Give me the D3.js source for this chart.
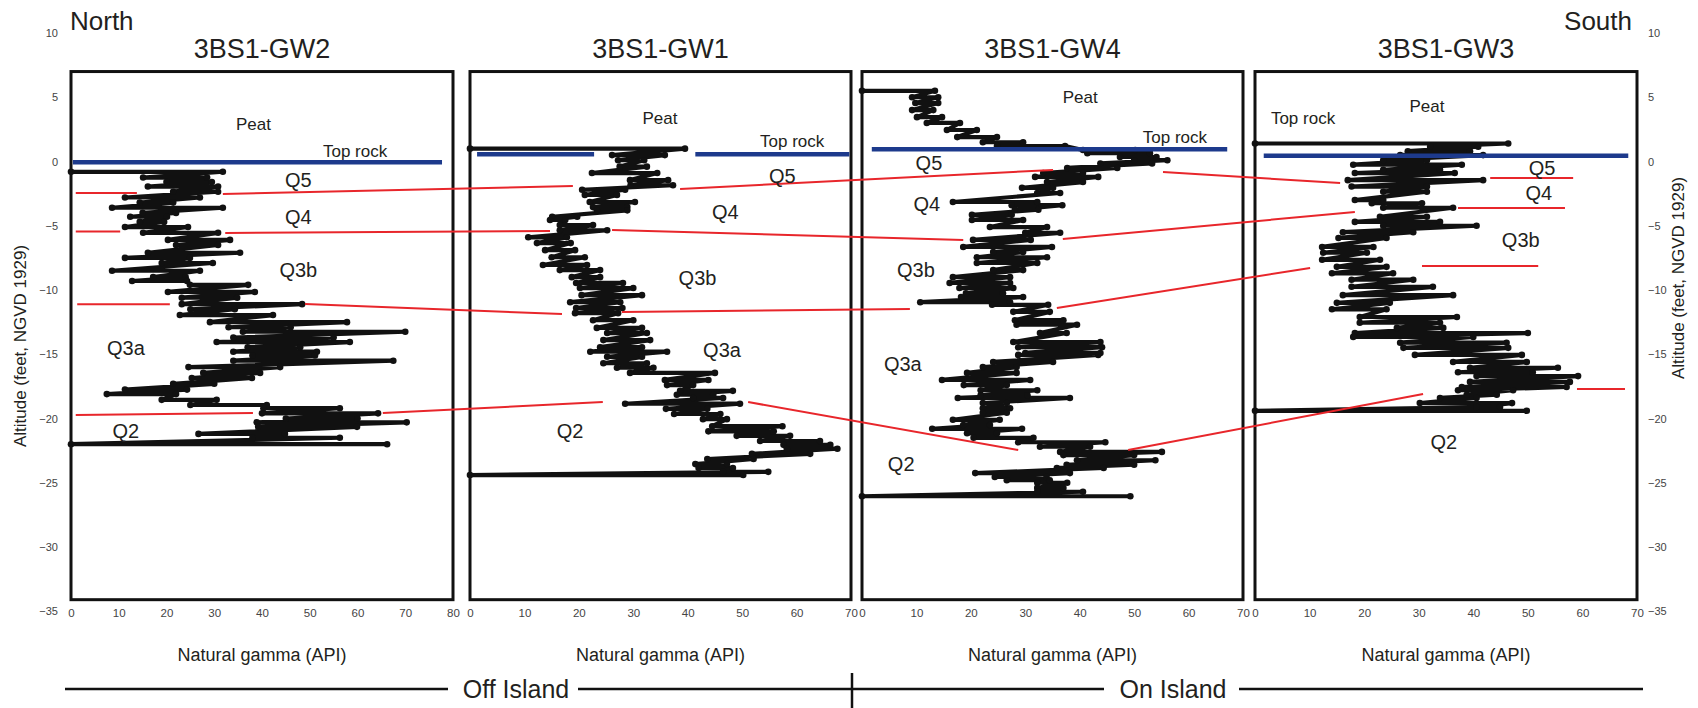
<!DOCTYPE html>
<html>
<head>
<meta charset="utf-8">
<script src="https://cdn.jsdelivr.net/npm/d3@7"></script>
<style>
  body { margin: 0; background: #fff; }
  svg { font-family: "Liberation Sans", Arial, Helvetica, sans-serif; }
</style>
</head>
<body>
<script>
// well names and gamma axis maxima
var wells = ["3BS1-GW2", "3BS1-GW1", "3BS1-GW4", "3BS1-GW3"];
var gammaMax = [80, 70, 70, 70];
var altTicks = [10, 5, 0, -5, -10, -15, -20, -25, -30, -35];

// gamma logs, rows of [altitude, low gamma, high gamma], top to bottom
var gw2 = [
  [-0.8, 0, 31.8], [-1.25, 15.1, 28.5], [-1.6, 20.0, 29.5], [-1.95, 16.1, 30.8],
  [-2.35, 21.4, 30.8], [-2.8, 11.3, 27.0], [-3.2, 14.4, 21.4], [-3.6, 8.6, 31.8],
  [-4.0, 15.0, 22.0], [-4.3, 12.4, 20.1], [-4.7, 14.4, 19.5], [-5.1, 11.3, 24.5],
  [-5.55, 15.1, 30.8], [-6.1, 20.3, 33.3], [-6.5, 22.0, 30.8], [-7.1, 16.1, 35.4],
  [-7.5, 11.3, 24.9], [-7.9, 19.0, 29.7], [-8.5, 8.6, 27.0], [-9.0, 17.2, 24.0],
  [-9.3, 12.8, 24.3], [-9.6, 24.9, 37.1], [-10.15, 20.3, 38.5], [-10.6, 23.2, 34.8],
  [-11.1, 23.2, 48.4], [-11.5, 25.0, 34.3], [-11.95, 22.8, 42.3], [-12.5, 29.1, 57.8],
  [-12.9, 33.0, 46.0], [-13.25, 36.0, 70.0], [-13.7, 34.0, 55.0], [-14.05, 30.5, 58.4],
  [-14.45, 37.0, 48.0], [-14.8, 34.0, 51.5], [-15.1, 38.0, 51.1], [-15.5, 34.0, 67.5],
  [-16.0, 24.6, 43.8], [-16.45, 27.7, 39.6], [-16.85, 25.3, 37.9], [-17.3, 21.4, 30.0],
  [-17.75, 11.3, 24.3], [-18.1, 7.5, 22.0], [-18.55, 19.0, 30.5], [-18.95, 25.0, 41.0],
  [-19.2, 40.3, 56.3], [-19.6, 40.0, 64.3], [-20.0, 45.0, 60.0], [-20.3, 38.9, 70.3],
  [-20.65, 39.2, 59.9], [-21.2, 26.7, 44.8], [-21.5, 38.0, 56.3], [-22.0, 0, 66.2]
];
var gw1 = [
  [1.0, 0, 39.5], [0.5, 26.1, 35.8], [0.1, 27.2, 32.0], [-0.4, 27.5, 32.5],
  [-0.9, 22.4, 34.4], [-1.45, 29.4, 36.4], [-1.85, 29.5, 37.3], [-2.2, 20.6, 28.5],
  [-2.6, 21.1, 27.0], [-3.15, 22.0, 30.3], [-3.55, 22.6, 28.9], [-3.8, 23.3, 28.9],
  [-4.3, 15.1, 19.7], [-4.55, 14.7, 17.5], [-4.95, 16.5, 22.6], [-5.35, 16.5, 25.2],
  [-5.9, 10.7, 17.8], [-6.35, 12.3, 18.5], [-6.9, 13.8, 19.3], [-7.45, 15.0, 21.1],
  [-8.05, 13.4, 21.5], [-8.45, 16.5, 23.9], [-9.0, 18.7, 23.9], [-9.45, 19.5, 28.1],
  [-9.85, 20.2, 30.0], [-10.4, 20.5, 31.6], [-10.95, 18.4, 27.6], [-11.4, 19.5, 28.0],
  [-11.8, 19.3, 27.2], [-12.35, 22.6, 30.0], [-12.95, 23.3, 31.6], [-13.35, 25.2, 32.5],
  [-13.9, 24.5, 33.1], [-14.45, 23.9, 31.6], [-14.8, 22.1, 36.2], [-15.2, 25.2, 31.6],
  [-15.7, 24.5, 32.5], [-16.05, 27.0, 33.7], [-16.45, 29.4, 45.0], [-17.0, 35.8, 43.8],
  [-17.4, 36.2, 41.0], [-17.85, 38.6, 48.3], [-18.15, 38.0, 44.7], [-18.4, 41.0, 46.5],
  [-18.85, 28.5, 49.6], [-19.25, 36.0, 43.6], [-19.65, 37.5, 46.0], [-20.05, 42.8, 47.2],
  [-20.6, 44.5, 57.4], [-21.0, 43.8, 55.8], [-21.35, 49.0, 58.8], [-21.75, 53.3, 64.3],
  [-22.05, 57.6, 66.2], [-22.35, 58.2, 67.5], [-22.75, 51.8, 62.5], [-23.15, 43.6, 52.1],
  [-23.55, 41.4, 47.2], [-23.85, 42.0, 48.3], [-24.15, 46.5, 54.8], [-24.4, 0, 50.2]
];
var gw4 = [
  [5.5, 0, 13.4], [5.0, 9.2, 14.0], [4.55, 9.8, 14.0], [4.0, 9.2, 13.1],
  [3.45, 10.1, 14.7], [3.0, 11.9, 18.0], [2.45, 15.6, 21.1], [1.9, 17.5, 24.8],
  [1.5, 22.2, 29.6], [1.2, 24.8, 37.3], [0.9, 40.6, 50.2], [0.65, 41.4, 52.9],
  [0.35, 47.4, 54.1], [0.1, 50.0, 56.1], [-0.15, 43.8, 53.3], [-0.5, 37.7, 46.9],
  [-0.9, 33.3, 40.6], [-1.2, 31.8, 43.4], [-1.6, 34.0, 40.6], [-2.05, 29.4, 35.1],
  [-2.45, 32.2, 36.4], [-3.15, 16.7, 32.2], [-3.4, 27.5, 36.8], [-3.75, 28.1, 32.4],
  [-4.15, 20.2, 27.5], [-4.55, 20.2, 29.6], [-5.1, 23.5, 34.0], [-5.55, 30.0, 36.4],
  [-6.1, 20.4, 31.0], [-6.65, 18.6, 34.9], [-7.05, 24.1, 29.6], [-7.45, 21.1, 34.0],
  [-7.9, 21.1, 32.2], [-8.45, 24.1, 29.6], [-9.0, 16.7, 27.2], [-9.45, 16.1, 27.2],
  [-9.85, 17.9, 27.8], [-10.25, 19.1, 25.9], [-10.55, 18.2, 29.6], [-10.95, 10.7, 27.2],
  [-11.15, 23.9, 34.2], [-11.7, 27.8, 34.5], [-12.35, 28.1, 37.0], [-12.7, 28.4, 39.5],
  [-13.35, 32.7, 37.6], [-14.05, 27.8, 43.8], [-14.45, 28.7, 44.1], [-14.9, 30.0, 43.8],
  [-15.05, 28.7, 43.4], [-15.6, 24.1, 35.1], [-16.0, 22.2, 28.4], [-16.45, 19.3, 28.4],
  [-17.0, 14.7, 30.9], [-17.4, 18.7, 26.6], [-17.8, 21.8, 32.2], [-18.2, 21.8, 30.4],
  [-18.4, 17.6, 38.2], [-18.8, 22.2, 26.6], [-19.2, 22.2, 27.2], [-19.55, 22.2, 26.6],
  [-20.1, 16.7, 25.3], [-20.5, 18.6, 23.5], [-20.8, 12.9, 29.4], [-21.15, 19.3, 24.8],
  [-21.5, 20.5, 31.5], [-21.85, 28.7, 44.7], [-22.2, 32.7, 41.9], [-22.6, 36.4, 55.1],
  [-22.85, 37.0, 50.0], [-23.25, 39.5, 53.9], [-23.6, 37.6, 50.0], [-23.85, 35.8, 44.4],
  [-24.25, 20.8, 38.2], [-24.55, 24.4, 33.9], [-24.8, 26.6, 34.5], [-25.0, 32.2, 37.7],
  [-25.4, 32.2, 37.0], [-25.7, 32.2, 40.6], [-26.05, 0, 49.3]
];
var gw3 = [
  [1.4, 0, 46.4], [1.15, 32.1, 40.9], [0.8, 28.0, 39.4], [0.5, 26.6, 41.8],
  [0.1, 23.5, 31.5], [-0.25, 18.0, 37.9], [-0.65, 23.5, 33.9], [-0.9, 18.3, 36.6],
  [-1.45, 17.0, 41.8], [-1.95, 17.7, 31.5], [-2.35, 23.5, 31.5], [-3.0, 18.3, 23.5],
  [-3.25, 21.4, 30.6], [-3.6, 23.5, 36.3], [-4.3, 22.9, 31.5], [-4.7, 18.3, 33.9],
  [-5.0, 23.5, 40.6], [-5.5, 16.1, 29.0], [-5.95, 15.3, 24.1], [-6.65, 12.3, 21.7],
  [-7.1, 12.5, 20.5], [-7.65, 12.3, 22.9], [-8.2, 15.0, 24.1], [-8.7, 14.1, 25.3],
  [-9.2, 17.7, 29.0], [-9.75, 17.7, 32.6], [-10.4, 16.1, 36.3], [-11.0, 15.0, 24.7],
  [-11.5, 14.1, 24.1], [-12.1, 19.2, 37.0], [-12.55, 19.2, 33.9], [-12.95, 26.0, 34.5],
  [-13.35, 18.3, 50.0], [-13.65, 18.0, 40.0], [-14.1, 26.6, 46.1], [-14.5, 27.2, 46.4],
  [-15.05, 29.3, 48.9], [-15.6, 36.3, 49.8], [-16.05, 39.4, 55.5], [-16.4, 37.2, 50.9],
  [-16.7, 40.6, 59.2], [-17.15, 39.4, 57.7], [-17.55, 37.9, 57.1], [-17.8, 37.2, 47.3],
  [-18.15, 38.8, 44.3], [-18.4, 33.9, 40.6], [-18.8, 30.2, 47.1], [-19.1, 40.6, 44.9],
  [-19.4, 0, 49.8]
];
var logs = [gw2, gw1, gw4, gw3];

// top of rock: [panel, gamma from, gamma to, altitude]
var topRock = [
  [0, 0.4, 77.7, -0.05], [1, 1.3, 22.8, 0.56], [1, 41.4, 69.7, 0.56],
  [2, 1.8, 67.1, 0.95], [3, 1.6, 68.4, 0.45]
];

// unit correlation lines: [panel A, gamma A, alt A, panel B, gamma B, alt B]
var unitLines = [
  [0, 1.0, -2.45, 0, 13.8, -2.45], [0, 31.8, -2.53, 1, 18.9, -1.91],
  [1, 38.6, -2.14, 2, 35.1, -0.66], [2, 55.3, -0.82, 3, 15.6, -1.67],
  [3, 43.1, -1.28, 3, 58.3, -1.28],
  [0, 1.0, -5.45, 0, 10.3, -5.45], [0, 32.3, -5.56, 1, 14.7, -5.41],
  [1, 26.1, -5.33, 2, 18.6, -6.11], [2, 36.9, -6.03, 3, 18.3, -3.93],
  [3, 37.2, -3.62, 3, 56.8, -3.62],
  [0, 1.3, -11.1, 0, 20.7, -11.1], [0, 49.0, -11.09, 1, 16.9, -11.87],
  [1, 27.9, -11.71, 2, 8.8, -11.48], [2, 35.8, -11.4, 3, 10.1, -8.29],
  [3, 30.6, -8.13, 3, 51.9, -8.13],
  [0, 1.0, -19.73, 0, 38.1, -19.57], [0, 65.3, -19.57, 1, 24.4, -18.72],
  [1, 51.1, -18.72, 2, 28.7, -22.45], [2, 48.9, -22.45, 3, 30.8, -18.09],
  [3, 59.0, -17.7, 3, 67.8, -17.7]
];

// labels inside panels: [panel, text, gamma, altitude, size]
var unitLabels = [
  [0, "Peat", 38.2, 2.9, 17], [0, "Top rock", 59.5, 0.85, 17], [0, "Q5", 47.6, -1.44, 20],
  [0, "Q4", 47.6, -4.32, 20], [0, "Q3b", 47.6, -8.44, 20], [0, "Q3a", 11.5, -14.5, 20],
  [0, "Q2", 11.5, -20.97, 20],
  [1, "Peat", 34.9, 3.38, 17], [1, "Top rock", 59.2, 1.6, 17], [1, "Q5", 57.4, -1.13, 20],
  [1, "Q4", 46.9, -3.93, 20], [1, "Q3b", 41.8, -9.07, 20], [1, "Q3a", 46.3, -14.67, 20],
  [1, "Q2", 18.4, -20.97, 20],
  [2, "Peat", 40.1, 5.02, 17], [2, "Top rock", 57.5, 1.9, 17], [2, "Q5", 12.3, -0.12, 20],
  [2, "Q4", 11.9, -3.31, 20], [2, "Q3b", 9.9, -8.44, 20], [2, "Q3a", 7.5, -15.76, 20],
  [2, "Q2", 7.2, -23.5, 20],
  [3, "Peat", 31.5, 4.32, 17], [3, "Top rock", 8.8, 3.38, 17], [3, "Q5", 52.6, -0.5, 20],
  [3, "Q4", 52.0, -2.45, 20], [3, "Q3b", 48.7, -6.11, 20], [3, "Q2", 34.6, -21.83, 20]
];

// layout
var width = 1698, height = 708;
var panelX = [[71, 453], [470, 851], [862, 1243], [1255, 1637]];
var boxTop = 7, boxBottom = -34.1;
var ink = "#231f20";

var svg = d3.select("body").append("svg")
  .attr("width", width).attr("height", height);

var y = d3.scaleLinear().domain([10, -30]).range([33, 547]);
var xs = panelX.map(function(r, i) {
  return d3.scaleLinear().domain([0, gammaMax[i]]).range(r);
});

// panels
wells.forEach(function(name, i) {
  var x = xs[i];
  var g = svg.append("g");

  // x axis
  var ax = g.append("g")
    .attr("transform", "translate(0," + y(boxBottom) + ")")
    .call(d3.axisBottom(x).tickValues(d3.range(0, gammaMax[i] + 1, 10)).tickSize(0).tickPadding(9));
  ax.select(".domain").remove();
  ax.selectAll("text").attr("font-size", 11.5).attr("fill", "#444").attr("font-family", "inherit");

  // well title
  g.append("text")
    .attr("x", (panelX[i][0] + panelX[i][1]) / 2).attr("y", 58)
    .attr("text-anchor", "middle").attr("font-size", 27).attr("fill", ink)
    .text(name);

  g.append("text")
    .attr("x", (panelX[i][0] + panelX[i][1]) / 2).attr("y", 661)
    .attr("text-anchor", "middle").attr("font-size", 18).attr("fill", ink)
    .text("Natural gamma (API)");

  // the log: each reading row goes low -> high, then on to the next row
  var pts = [];
  logs[i].forEach(function(r) {
    pts.push([r[0], r[1]]);
    pts.push([r[0], r[2]]);
  });
  var line = d3.line()
    .x(function(d) { return x(d[1]); })
    .y(function(d) { return y(d[0]); });
  g.append("path").datum(pts)
    .attr("d", line).attr("fill", "none")
    .attr("stroke", "#111").attr("stroke-width", 4.2).attr("stroke-linejoin", "round");
  g.selectAll("circle").data(pts).enter().append("circle")
    .attr("cx", function(d) { return x(d[1]); })
    .attr("cy", function(d) { return y(d[0]); })
    .attr("r", 3.3).attr("fill", "#111");

  // box
  g.append("rect")
    .attr("x", panelX[i][0]).attr("y", y(boxTop))
    .attr("width", panelX[i][1] - panelX[i][0])
    .attr("height", y(boxBottom) - y(boxTop))
    .attr("fill", "none").attr("stroke", "#111").attr("stroke-width", 3);
});

// correlation lines
svg.append("g").selectAll("line").data(unitLines).enter().append("line")
  .attr("x1", function(d) { return xs[d[0]](d[1]); })
  .attr("y1", function(d) { return y(d[2]); })
  .attr("x2", function(d) { return xs[d[3]](d[4]); })
  .attr("y2", function(d) { return y(d[5]); })
  .attr("stroke", "#e8262b").attr("stroke-width", 2);

// top of rock
svg.append("g").selectAll("line").data(topRock).enter().append("line")
  .attr("x1", function(d) { return xs[d[0]](d[1]); })
  .attr("x2", function(d) { return xs[d[0]](d[2]); })
  .attr("y1", function(d) { return y(d[3]); })
  .attr("y2", function(d) { return y(d[3]); })
  .attr("stroke", "#1d3a8c").attr("stroke-width", 4.5);

// unit labels
svg.append("g").selectAll("text").data(unitLabels).enter().append("text")
  .attr("x", function(d) { return xs[d[0]](d[2]); })
  .attr("y", function(d) { return y(d[3]); })
  .attr("dy", "0.36em").attr("text-anchor", "middle")
  .attr("font-size", function(d) { return d[4]; })
  .attr("fill", ink)
  .text(function(d) { return d[1]; });

// altitude axes
var yl = svg.append("g").attr("transform", "translate(62,0)")
  .call(d3.axisLeft(y).tickValues(altTicks).tickSize(0).tickPadding(4));
var yr = svg.append("g").attr("transform", "translate(1644,0)")
  .call(d3.axisRight(y).tickValues(altTicks).tickSize(0).tickPadding(4));
[yl, yr].forEach(function(a) {
  a.select(".domain").remove();
  a.selectAll("text").attr("font-size", 11).attr("fill", "#444").attr("font-family", "inherit");
});

svg.append("text")
  .attr("transform", "translate(26,346) rotate(-90)")
  .attr("text-anchor", "middle").attr("font-size", 17).attr("fill", ink)
  .text("Altitude (feet, NGVD 1929)");
svg.append("text")
  .attr("transform", "translate(1684,278) rotate(-90)")
  .attr("text-anchor", "middle").attr("font-size", 17).attr("fill", ink)
  .text("Altitude (feet, NGVD 1929)");

svg.append("text").attr("x", 70).attr("y", 30)
  .attr("font-size", 26).attr("fill", ink).text("North");
svg.append("text").attr("x", 1632).attr("y", 30).attr("text-anchor", "end")
  .attr("font-size", 26).attr("fill", ink).text("South");

// off island / on island bracket
var bracketY = 689;
var bracket = svg.append("g").attr("stroke", "#111").attr("stroke-width", 2.5);
[[65, 448], [578, 852], [852, 1104], [1239, 1643]].forEach(function(s) {
  bracket.append("line").attr("x1", s[0]).attr("x2", s[1])
    .attr("y1", bracketY).attr("y2", bracketY);
});
bracket.append("line").attr("x1", 852).attr("x2", 852)
  .attr("y1", 673).attr("y2", 708);
svg.append("text").attr("x", 516).attr("y", bracketY).attr("dy", "0.36em")
  .attr("text-anchor", "middle").attr("font-size", 25).attr("fill", ink).text("Off Island");
svg.append("text").attr("x", 1173).attr("y", bracketY).attr("dy", "0.36em")
  .attr("text-anchor", "middle").attr("font-size", 25).attr("fill", ink).text("On Island");
</script>
</body>
</html>
